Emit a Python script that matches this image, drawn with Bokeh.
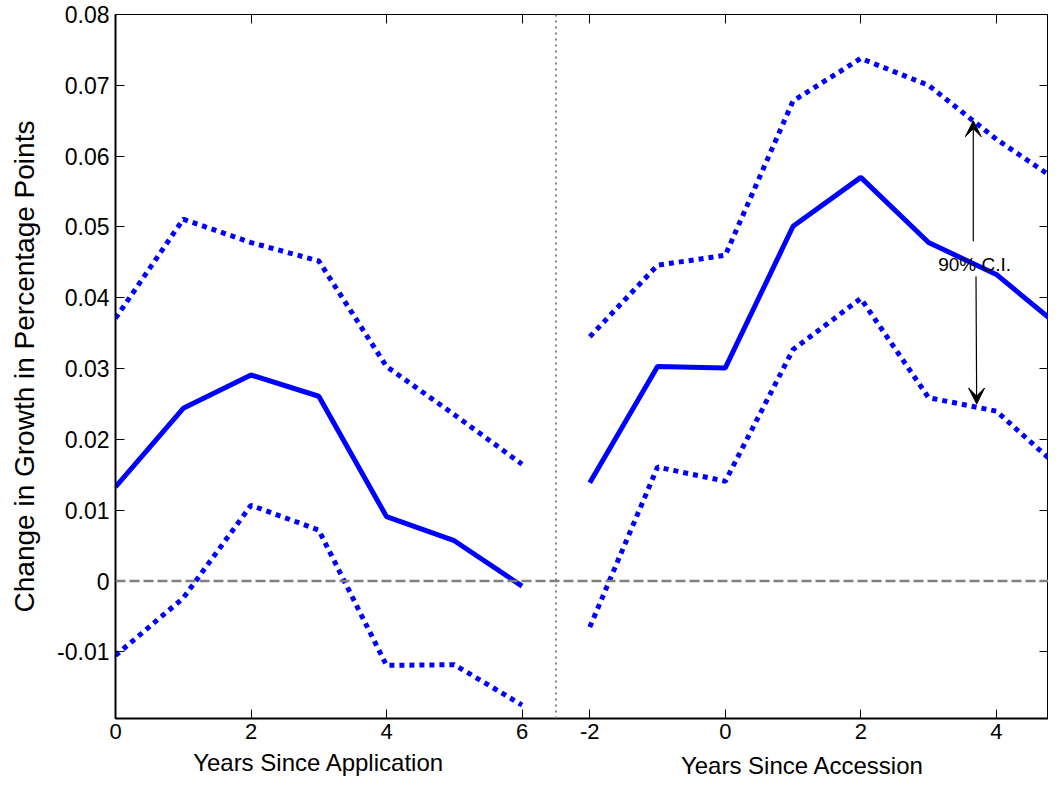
from bokeh.plotting import figure
from bokeh.layouts import column
from bokeh.models import (Range1d, FixedTicker, LinearAxis, Span, Label, Arrow,
                          VeeHead, CustomJSTickFormatter, ColumnDataSource)
from bokeh.core.properties import value
from bokeh.embed import file_html
from bokeh.resources import INLINE

# ---------------- data ----------------
# Left panel: years since application (plotted at positions 0..6)
years_app = [0, 1, 2, 3, 4, 5, 6]
est_app = [0.0133, 0.0244, 0.0291, 0.0261, 0.0091, 0.0057, -0.0007]
upper_app = [0.0371, 0.0511, 0.0478, 0.0452, 0.0303, 0.0235, 0.0165]
lower_app = [-0.0105, -0.0024, 0.0107, 0.0072, -0.0119, -0.0118, -0.0175]

# Right panel: years since accession (-2..5), shifted after the left panel
years_acc = [-2, -1, 0, 1, 2, 3, 4, 5]
est_acc = [0.0139, 0.0303, 0.0301, 0.0501, 0.0570, 0.0478, 0.0433, 0.0354]
upper_acc = [0.0345, 0.0446, 0.0460, 0.0678, 0.0738, 0.0700, 0.0624, 0.0559]
lower_acc = [-0.0065, 0.0161, 0.0141, 0.0327, 0.0399, 0.0259, 0.0240, 0.0154]
ACC_SHIFT = 9  # accession year 0 sits at axis position 9

xtick_app = [0, 2, 4, 6]
xtick_acc = [-2, 0, 2, 4]
ytick_vals = [-0.01, 0.0, 0.01, 0.02, 0.03, 0.04, 0.05, 0.06, 0.07, 0.08]

panel_titles = ["Years Since Application", "Years Since Accession"]
panel_title_x = [3, 10.14]
panel_title_y = [0.1, -0.09]

FONT = "Liberation Sans"
BLUE = "#0000ff"
GRAY = "#808080"

pos_acc = [y + ACC_SHIFT for y in years_acc]

p = figure(width=1048, height=748, x_range=Range1d(0, 13.77),
           y_range=Range1d(-0.0194, 0.08), output_backend="svg",
           toolbar_location=None, min_border_left=115, min_border_right=0,
           min_border_top=14, min_border_bottom=30)
p.grid.visible = False
p.outline_line_color = "black"
p.outline_line_width = 1
p.background_fill_color = "white"
p.border_fill_color = "white"

xticks = xtick_app + [t + ACC_SHIFT for t in xtick_acc]
xlabels = {**{t: str(t) for t in xtick_app},
           **{t + ACC_SHIFT: str(t) for t in xtick_acc}}

yfmt = CustomJSTickFormatter(code='return Math.abs(tick) < 1e-9 ? "0" : tick.toFixed(2);')
blankfmt = CustomJSTickFormatter(code='return "";')

for ax in p.xaxis:
    ax.ticker = FixedTicker(ticks=xticks)
    ax.major_label_overrides = xlabels
    ax.major_tick_in = 9
    ax.major_tick_out = 0
    ax.minor_tick_line_color = None
    ax.major_label_standoff = 5
    ax.major_label_text_font = FONT
    ax.major_label_text_font_size = "22px"
    ax.major_label_text_color = "black"
    ax.axis_line_width = 2
    ax.axis_line_color = "black"
    ax.major_tick_line_color = "black"

for ax in p.yaxis:
    ax.ticker = FixedTicker(ticks=ytick_vals)
    ax.formatter = yfmt
    ax.major_tick_in = 9
    ax.major_tick_out = 0
    ax.minor_tick_line_color = None
    ax.major_label_standoff = 6
    ax.major_label_text_font = FONT
    ax.major_label_text_font_size = "23px"
    ax.major_label_text_color = "black"
    ax.axis_line_width = 2
    ax.axis_line_color = "black"
    ax.major_tick_line_color = "black"
    ax.axis_label = "Change in Growth in Percentage Points"
    ax.axis_label_text_font = FONT
    ax.axis_label_text_font_size = "28px"
    ax.axis_label_text_font_style = "normal"
    ax.axis_label_text_color = "black"
    ax.axis_label_standoff = 14

top = LinearAxis(ticker=FixedTicker(ticks=xticks), formatter=blankfmt,
                 major_tick_in=9, major_tick_out=0,
                 minor_tick_line_color=None, major_label_text_font_size="1px",
                 major_label_standoff=0, axis_line_color="black")
p.add_layout(top, "above")
right = LinearAxis(ticker=FixedTicker(ticks=ytick_vals), formatter=blankfmt,
                   major_tick_in=9, major_tick_out=0,
                   minor_tick_line_color=None, major_label_text_font_size="1px",
                   major_label_standoff=0, axis_line_color=None)
p.add_layout(right, "right")

# reference lines
p.add_layout(Span(location=0, dimension="width", line_color=GRAY,
                  line_width=2.5, line_dash="10 4"))
p.add_layout(Span(location=6.5, dimension="height", line_color=GRAY,
                  line_width=2, line_dash="2 4"))

# series
p.line(years_app, est_app, line_color=BLUE, line_width=5)
p.line(years_app, upper_app, line_color=BLUE, line_width=5, line_dash="5 5")
p.line(years_app, lower_app, line_color=BLUE, line_width=5, line_dash="5 5")
p.line(pos_acc, est_acc, line_color=BLUE, line_width=5)
p.line(pos_acc, upper_acc, line_color=BLUE, line_width=5, line_dash="5 5")
p.line(pos_acc, lower_acc, line_color=BLUE, line_width=5, line_dash="5 5")

# CI annotation
CI_X = 12.68
p.add_layout(Label(x=CI_X, y=0.0447, text="90% C.I.", text_font=FONT,
                   text_font_size="19px", text_align="center",
                   text_baseline="middle", text_color="black"))
p.add_layout(Arrow(end=VeeHead(size=16, fill_color="black", line_color="black"),
                   x_start=CI_X - 0.02, y_start=0.0480, x_end=CI_X - 0.02, y_end=0.0650,
                   line_color="black", line_width=1.2))
p.add_layout(Arrow(end=VeeHead(size=16, fill_color="black", line_color="black"),
                   x_start=CI_X + 0.02, y_start=0.0430, x_end=CI_X + 0.03, y_end=0.0250,
                   line_color="black", line_width=1.2))

# strip underneath holding the two panel titles, sharing the x range
p2 = figure(width=1048, height=32, x_range=p.x_range, y_range=Range1d(-1, 1),
            output_backend="svg", toolbar_location=None,
            x_axis_location=None, y_axis_location=None,
            min_border_left=115, min_border_right=0,
            min_border_top=0, min_border_bottom=0)
p2.grid.visible = False
p2.outline_line_color = None
p2.background_fill_color = "white"
p2.border_fill_color = "white"
src = ColumnDataSource(dict(x=panel_title_x, y=panel_title_y, t=panel_titles))
p2.text(x="x", y="y", text="t", source=src, text_font=value(FONT),
        text_font_size="24px", text_align="center", text_baseline="middle",
        text_color="black")

layout = column(p, p2, spacing=0)
open("out.html", "w").write(file_html(layout, INLINE))
